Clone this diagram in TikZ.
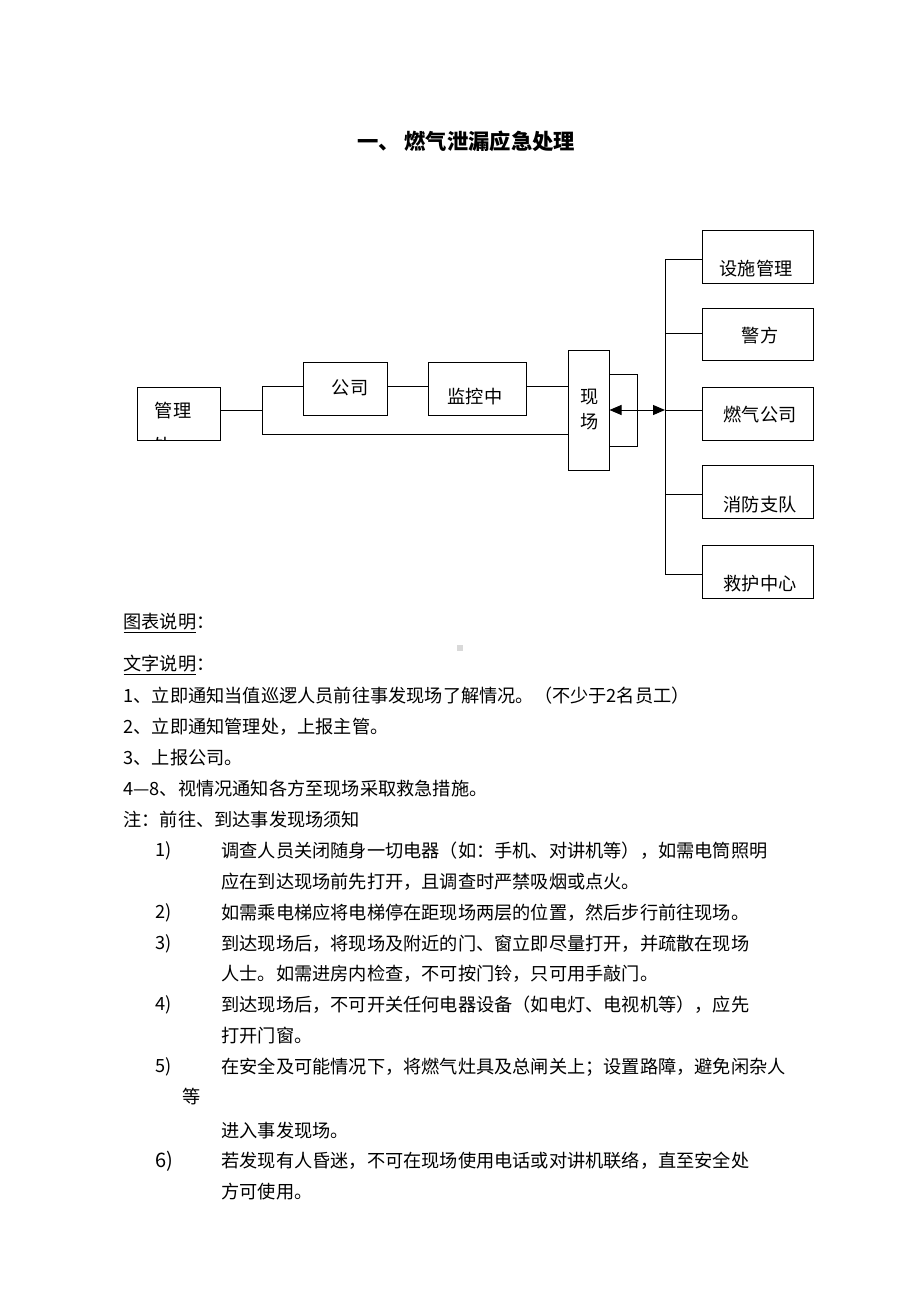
\documentclass[tikz,border=0pt]{standalone}
\usepackage{fontspec}
\setmainfont{Noto Sans CJK SC}
\usetikzlibrary{arrows.meta}

\begin{document}
\begin{tikzpicture}[x=1pt,y=-1pt,line width=1pt,
    every node/.style={inner sep=0pt,font=\fontsize{18.2}{20}\selectfont},
    box/.style={draw,minimum width=#1},
    line/.style={anchor=west}]
    \useasboundingbox (0,0) rectangle (920,1302);
    % title
    \node (title) at (466,141) {\fontsize{21.3}{24}\selectfont\bfseries 一、 燃气泄漏应急处理};
    % left chain
    \node [box=83pt,minimum height=53pt] (gl) at (178.5,413.5) {};
    \node (gltext) at (173,411) {管理};
    \begin{scope}
    \clip (gl.south west) rectangle (gl.north east);
    \node (gltail) at (163,446) {处};
    \end{scope}
    \node [box=84pt,minimum height=53pt] (gs) at (345,388.5) {};
    \node (gstext) at (350,388) {公司};
    \node [box=98pt,minimum height=53pt] (jk) at (477,388.5) {};
    \node (jktext) at (475,397) {监控中};
    \node [box=41pt,minimum height=120pt] (xc) at (588.5,410) {};
    \node (xctext1) at (590,397) {现};
    \node (xctext2) at (590,422) {场};
    \coordinate (jm) at (262,410);
    \coordinate (jt) at (262,386);
    \coordinate (jb) at (262,434);
    \draw (gl.east |- jm) -- (jm);
    \draw (jt) -- (jb);
    \draw (jt) -- (jt -| gs.west);
    \draw (jb) -- (jb -| xc.west);
    \draw (gs.east |- jt) -- (jt -| jk.west);
    \draw (jk.east |- jt) -- (jt -| xc.west);
    % bracket and arrow
    \coordinate (kt) at (637,374);
    \coordinate (kb) at (637,446);
    \draw (xc.east |- kt) -- (kt) -- (kb) -- (xc.east |- kb);
    \coordinate (bt) at (665,259);
    \coordinate (bm) at (665,410);
    \coordinate (bb) at (665,574);
    \draw [{Triangle[length=12pt,width=10pt]}-{Triangle[length=12pt,width=10pt]}] (xc.east) -- (bm);
    \draw (bt) -- (bb);
    % right boxes
    \node [box=111pt,minimum height=53pt] (ss) at (757.5,256.5) {};
    \node (sstext) at (756,269) {设施管理};
    \node [box=111pt,minimum height=52pt] (jf) at (757.5,334) {};
    \node (jftext) at (760,336) {警方};
    \node [box=111pt,minimum height=53pt] (rq) at (757.5,413.5) {};
    \node (rqtext) at (760,415) {燃气公司};
    \node [box=111pt,minimum height=53pt] (xf) at (757.5,491.5) {};
    \node (xftext) at (760,505) {消防支队};
    \node [box=111pt,minimum height=53pt] (jh) at (757.5,571.5) {};
    \node (jhtext) at (760,584) {救护中心};
    \draw (bt) -- (bt -| ss.west);
    \draw (665,333) -- (ss.west |- 0,333);
    \draw (bm) -- (bm -| rq.west);
    \draw (665,494) -- (xf.west |- 0,494);
    \draw (bb) -- (bb -| jh.west);
    % notes
    \node [line] (n0) at (123,623) {\underline{图表说明}：};
    \fill [black!15] (457,645) rectangle (463,651);
    \node [line] (n1) at (123,665) {\underline{文字说明}：};
    \node [line] (n2) at (123,696) {1、立即通知当值巡逻人员前往事发现场了解情况。（不少于2名员工）};
    \node [line] (n3) at (123,727) {2、立即通知管理处，上报主管。};
    \node [line] (n4) at (123,758) {3、上报公司。};
    \node [line] (n5) at (123,789) {4—8、视情况通知各方至现场采取救急措施。};
    \node [line] (n6) at (123,820) {注：前往、到达事发现场须知};
    \node [line] (k1) at (155,851) {1)};
    \node [line] (s1a) at (221,851) {调查人员关闭随身一切电器（如：手机、对讲机等），如需电筒照明};
    \node [line] (s1b) at (221,882) {应在到达现场前先打开，且调查时严禁吸烟或点火。};
    \node [line] (k2) at (155,913) {2)};
    \node [line] (s2a) at (221,913) {如需乘电梯应将电梯停在距现场两层的位置，然后步行前往现场。};
    \node [line] (k3) at (155,944) {3)};
    \node [line] (s3a) at (221,944) {到达现场后，将现场及附近的门、窗立即尽量打开，并疏散在现场};
    \node [line] (s3b) at (221,974) {人士。如需进房内检查，不可按门铃，只可用手敲门。};
    \node [line] (k4) at (155,1005) {4)};
    \node [line] (s4a) at (221,1005) {到达现场后，不可开关任何电器设备（如电灯、电视机等），应先};
    \node [line] (s4b) at (221,1036) {打开门窗。};
    \node [line] (k5) at (155,1067) {5)};
    \node [line] (s5a) at (221,1067) {在安全及可能情况下，将燃气灶具及总闸关上；设置路障，避免闲杂人};
    \node [line] (s5b) at (182,1097) {等};
    \node [line] (s5c) at (221,1131) {进入事发现场。};
    \node [line] (k6) at (155,1161) {\fontsize{20}{22}\selectfont 6)};
    \node [line] (s6a) at (221,1161) {若发现有人昏迷，不可在现场使用电话或对讲机联络，直至安全处};
    \node [line] (s6b) at (221,1192) {方可使用。};
\end{tikzpicture}
\end{document}
